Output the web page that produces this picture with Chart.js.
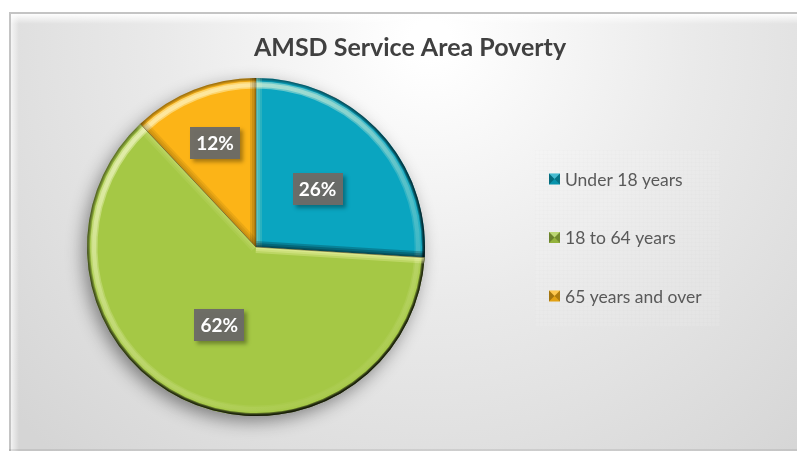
<!DOCTYPE html>
<html>
<head>
<meta charset="utf-8">
<script src="https://cdn.jsdelivr.net/npm/chart.js@4.4.1/dist/chart.umd.min.js"></script>
<style>
  html, body { margin: 0; padding: 0; background: #fff; }
  #wrap { width: 797px; height: 454px; }
</style>
</head>
<body>
<div id="wrap"><canvas id="povertyChart" width="797" height="454"></canvas></div>
<script>
const chartTitle = "AMSD Service Area Poverty";
const ageGroups = ["Under 18 years", "18 to 64 years", "65 years and over"];
const povertyShare = [26, 62, 12];
const sliceColors = ["#0aa5c0", "#a5c845", "#fcb417"];

const FONT = "Lato, 'Open Sans', sans-serif";
// light comes from the upper left
const LIGHT = (() => { const x = -0.45, y = -0.9, l = Math.hypot(x, y); return { x: x / l, y: y / l }; })();

const frameBackdrop = {
  id: "frameBackdrop",
  beforeDraw(chart) {
    const { ctx, width, height } = chart;
    ctx.save();
    ctx.fillStyle = "#fff";
    ctx.fillRect(0, 0, width, height);
    const fx = 9, fy = 12, fw = width - fx, fh = 451 - fy;
    const bg = ctx.createRadialGradient(430, 40, 20, 430, 40, 560);
    bg.addColorStop(0, "#ffffff");
    bg.addColorStop(0.45, "#eaeaea");
    bg.addColorStop(1, "#d5d5d5");
    ctx.fillStyle = bg;
    ctx.fillRect(fx, fy, fw, fh);

    // bevelled frame edges
    const top = ctx.createLinearGradient(0, fy + 2, 0, fy + 12);
    top.addColorStop(0, "rgba(255,255,255,0.95)");
    top.addColorStop(1, "rgba(255,255,255,0)");
    ctx.fillStyle = top;
    ctx.fillRect(fx + 2, fy + 2, fw, 10);
    const left = ctx.createLinearGradient(fx + 2, 0, fx + 10, 0);
    left.addColorStop(0, "rgba(255,255,255,0.7)");
    left.addColorStop(1, "rgba(255,255,255,0)");
    ctx.fillStyle = left;
    ctx.fillRect(fx + 2, fy + 2, 8, fh - 2);
    ctx.fillStyle = "#c4c4c4";
    ctx.fillRect(fx, fy, fw, 2);
    ctx.fillRect(fx, fy, 2, fh);
    ctx.fillStyle = "rgba(0,0,0,0.08)";
    ctx.fillRect(fx, fy + fh - 2, fw, 2);

    // legend panel with a faint weave
    const lx = 535, ly = 150, lw = 185, lh = 176;
    ctx.fillStyle = "rgba(255,255,255,0.1)";
    ctx.fillRect(lx, ly, lw, lh);
    ctx.fillStyle = "rgba(0,0,0,0.008)";
    for (let x = lx; x < lx + lw; x += 4) ctx.fillRect(x, ly, 1, lh);
    for (let y = ly; y < ly + lh; y += 4) ctx.fillRect(lx, y, lw, 1);
    ctx.restore();
  }
};

const pieShadow = {
  id: "pieShadow",
  beforeDatasetsDraw(chart) {
    const arc = chart.getDatasetMeta(0).data[0];
    if (!arc) return;
    const { ctx } = chart;
    ctx.save();
    ctx.shadowColor = "rgba(0,0,0,0.45)";
    ctx.shadowBlur = 18;
    ctx.shadowOffsetX = -4;
    ctx.shadowOffsetY = 6;
    ctx.fillStyle = "#9a9a9a";
    ctx.beginPath();
    ctx.arc(arc.x, arc.y, arc.outerRadius - 1, 0, Math.PI * 2);
    ctx.fill();
    ctx.restore();
  }
};

function slicePath(ctx, a) {
  ctx.beginPath();
  ctx.moveTo(a.x, a.y);
  ctx.arc(a.x, a.y, a.outerRadius, a.startAngle, a.endAngle);
  ctx.closePath();
}

function edgeShade(nx, ny) {
  const s = nx * LIGHT.x + ny * LIGHT.y;
  return s > 0 ? `rgba(255,255,190,${(0.3 * s).toFixed(3)})` : `rgba(0,0,0,${(0.24 * -s).toFixed(3)})`;
}

const sliceBevel = {
  id: "sliceBevel",
  afterDatasetsDraw(chart) {
    const { ctx } = chart;
    chart.getDatasetMeta(0).data.forEach(a => {
      const R = a.outerRadius;
      ctx.save();
      slicePath(ctx, a);
      ctx.clip();

      // rounded rim: bright band inside, dark lip at the edge
      const g = ctx.createLinearGradient(a.x + LIGHT.x * R, a.y + LIGHT.y * R, a.x - LIGHT.x * R, a.y - LIGHT.y * R);
      g.addColorStop(0, "rgba(255,255,220,0.45)");
      g.addColorStop(0.5, "rgba(255,255,220,0.18)");
      g.addColorStop(1, "rgba(255,255,220,0.03)");
      ctx.strokeStyle = g;
      [7, 4].forEach(w => {
        ctx.lineWidth = w;
        ctx.beginPath();
        ctx.arc(a.x, a.y, R - 7, a.startAngle, a.endAngle);
        ctx.stroke();
      });
      const d = ctx.createLinearGradient(a.x + LIGHT.x * R, a.y + LIGHT.y * R, a.x - LIGHT.x * R, a.y - LIGHT.y * R);
      d.addColorStop(0, "rgba(0,0,0,0.14)");
      d.addColorStop(1, "rgba(0,0,0,0.5)");
      ctx.strokeStyle = d;
      [6, 4, 2].forEach(w => {
        ctx.lineWidth = w;
        ctx.beginPath();
        ctx.arc(a.x, a.y, R, a.startAngle, a.endAngle);
        ctx.stroke();
      });

      // straight sides
      const sides = [
        { t: a.startAngle, nx: Math.sin(a.startAngle), ny: -Math.cos(a.startAngle) },
        { t: a.endAngle, nx: -Math.sin(a.endAngle), ny: Math.cos(a.endAngle) }
      ];
      sides.forEach(s => {
        ctx.strokeStyle = edgeShade(s.nx, s.ny);
        [12, 8, 4].forEach(w => {
          ctx.lineWidth = w;
          ctx.beginPath();
          ctx.moveTo(a.x, a.y);
          ctx.lineTo(a.x + Math.cos(s.t) * R, a.y + Math.sin(s.t) * R);
          ctx.stroke();
        });
      });
      ctx.restore();

      ctx.save();
      ctx.strokeStyle = "rgba(60,50,20,0.45)";
      ctx.lineWidth = 1;
      ctx.beginPath();
      ctx.moveTo(a.x, a.y);
      ctx.lineTo(a.x + Math.cos(a.startAngle) * R, a.y + Math.sin(a.startAngle) * R);
      ctx.stroke();
      ctx.restore();
    });
  }
};

const sliceLabels = {
  id: "sliceLabels",
  afterDatasetsDraw(chart, args, opts) {
    const { ctx } = chart;
    const values = chart.data.datasets[0].data;
    const total = values.reduce((s, v) => s + v, 0);
    chart.getDatasetMeta(0).data.forEach((a, i) => {
      const mid = (a.startAngle + a.endAngle) / 2;
      const r = a.outerRadius * opts.depth[i];
      const cx = a.x + Math.cos(mid) * r;
      const cy = a.y + Math.sin(mid) * r;
      const text = Math.round(values[i] / total * 100) + "%";
      ctx.save();
      ctx.font = `bold 19px ${FONT}`;
      const w = 50, h = 32;
      ctx.shadowColor = "rgba(0,0,0,0.35)";
      ctx.shadowBlur = 4;
      ctx.shadowOffsetX = 3;
      ctx.shadowOffsetY = 3;
      ctx.fillStyle = "rgba(108,107,103,0.97)";
      ctx.fillRect(Math.round(cx - w / 2), Math.round(cy - h / 2), w, h);
      ctx.shadowColor = "transparent";
      ctx.fillStyle = "#fff";
      ctx.textAlign = "center";
      ctx.textBaseline = "middle";
      ctx.fillText(text, cx, cy + 1);
      ctx.restore();
    });
  }
};

function drawMarker(ctx, x, y, s, color) {
  ctx.fillStyle = color;
  ctx.fillRect(x, y, s, s);
  const cx = x + s / 2, cy = y + s / 2;
  const faces = [
    [[x, y], [x + s, y], "rgba(255,255,255,0.25)"],
    [[x + s, y], [x + s, y + s], "rgba(0,0,0,0.3)"],
    [[x + s, y + s], [x, y + s], "rgba(0,0,0,0.1)"],
    [[x, y + s], [x, y], "rgba(0,0,0,0.35)"]
  ];
  faces.forEach(([p, q, c]) => {
    ctx.fillStyle = c;
    ctx.beginPath();
    ctx.moveTo(p[0], p[1]);
    ctx.lineTo(q[0], q[1]);
    ctx.lineTo(cx, cy);
    ctx.closePath();
    ctx.fill();
  });
}

const headerAndKey = {
  id: "headerAndKey",
  afterDraw(chart, args, opts) {
    const { ctx } = chart;
    ctx.save();
    ctx.fillStyle = "#404040";
    ctx.font = `bold 25px ${FONT}`;
    ctx.textAlign = "center";
    ctx.textBaseline = "middle";
    ctx.fillText(opts.text, opts.titleX, opts.titleY);

    ctx.font = `17.5px ${FONT}`;
    ctx.textAlign = "left";
    chart.data.labels.forEach((label, i) => {
      const y = opts.keyTop + i * opts.keyStep;
      drawMarker(ctx, opts.keyX, y - 5.5, 11, chart.data.datasets[0].backgroundColor[i]);
      ctx.fillStyle = "#595959";
      ctx.fillText(label, opts.keyX + 16, y + 1);
    });
    ctx.restore();
  }
};

new Chart(document.getElementById("povertyChart").getContext("2d"), {
  type: "pie",
  data: {
    labels: ageGroups,
    datasets: [{
      data: povertyShare,
      backgroundColor: sliceColors,
      borderWidth: 0
    }]
  },
  plugins: [frameBackdrop, pieShadow, sliceBevel, sliceLabels, headerAndKey],
  options: {
    responsive: false,
    animation: false,
    layout: { padding: { left: 87, right: 372, top: 78, bottom: 38 } },
    plugins: {
      legend: { display: false },
      title: { display: false },
      tooltip: { enabled: false },
      sliceLabels: { depth: [0.5, 0.51, 0.66] },
      headerAndKey: { text: chartTitle, titleX: 410, titleY: 48, keyX: 549, keyTop: 179, keyStep: 58.5 }
    }
  }
});
</script>
</body>
</html>
